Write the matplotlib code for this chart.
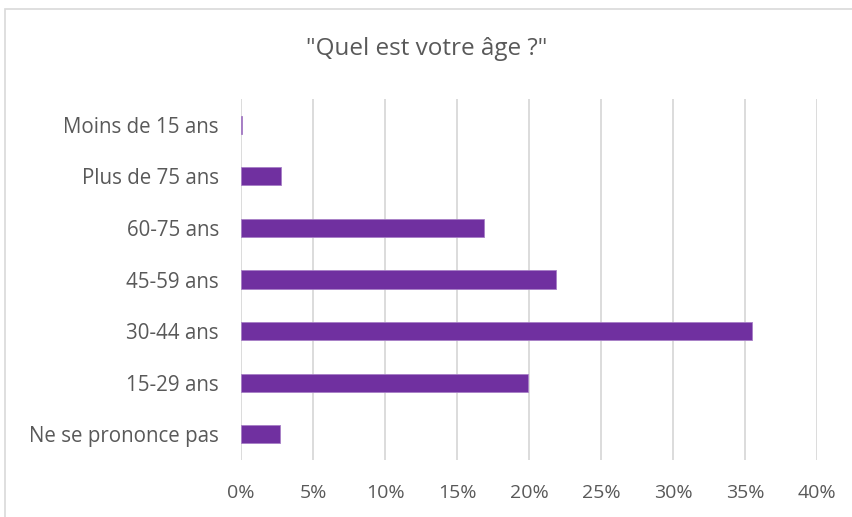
import matplotlib.pyplot as plt
from matplotlib.patches import Rectangle
from matplotlib.ticker import FuncFormatter

categories = ["Ne se prononce pas", "15-29 ans", "30-44 ans", "45-59 ans",
              "60-75 ans", "Plus de 75 ans", "Moins de 15 ans"]
values = [2.7, 19.9, 35.5, 21.9, 16.9, 2.8, 0.1]
x_ticks = [0, 5, 10, 15, 20, 25, 30, 35, 40]

plt.rcParams['font.family'] = ['Open Sans', 'DejaVu Sans']
text_col = '#595959'

fig = plt.figure(figsize=(8.53, 5.17), dpi=100)
# outer chart frame (cropped at right/bottom)
fig.patches.append(Rectangle((5 / 853, -0.1), 1.2, 1 - 9 / 517 + 0.1,
                             transform=fig.transFigure, fill=False,
                             edgecolor='#d9d9d9', linewidth=1.2))

ax = fig.add_axes([241 / 853, 1 - 460 / 517, 576 / 853, 361 / 517])
ax.barh(range(len(categories)), values, height=0.35, color='#7030a0',
        edgecolor='#a77fc6', linewidth=0.6, zorder=3)

ax.set_xlim(0, 40)
ax.set_ylim(-0.5, len(categories) - 0.5)
ax.set_xticks(x_ticks)
ax.xaxis.set_major_formatter(FuncFormatter(lambda v, p: f"{v:.0f}%"))
ax.set_yticks(range(len(categories)))
ax.set_yticklabels(categories)
ax.grid(axis='x', color='#d9d9d9', linewidth=1.3, zorder=0)
for s in ax.spines.values():
    s.set_visible(False)
ax.tick_params(axis='both', length=0, colors=text_col)
ax.tick_params(axis='x', labelsize=14, pad=17)
ax.tick_params(axis='y', labelsize=14.8, pad=16)

fig.text(0.5, 1 - 49 / 517, '"Quel est votre âge ?"', ha='center', va='center',
         fontsize=17.5, color=text_col)

fig.savefig('out.png', dpi=100)
